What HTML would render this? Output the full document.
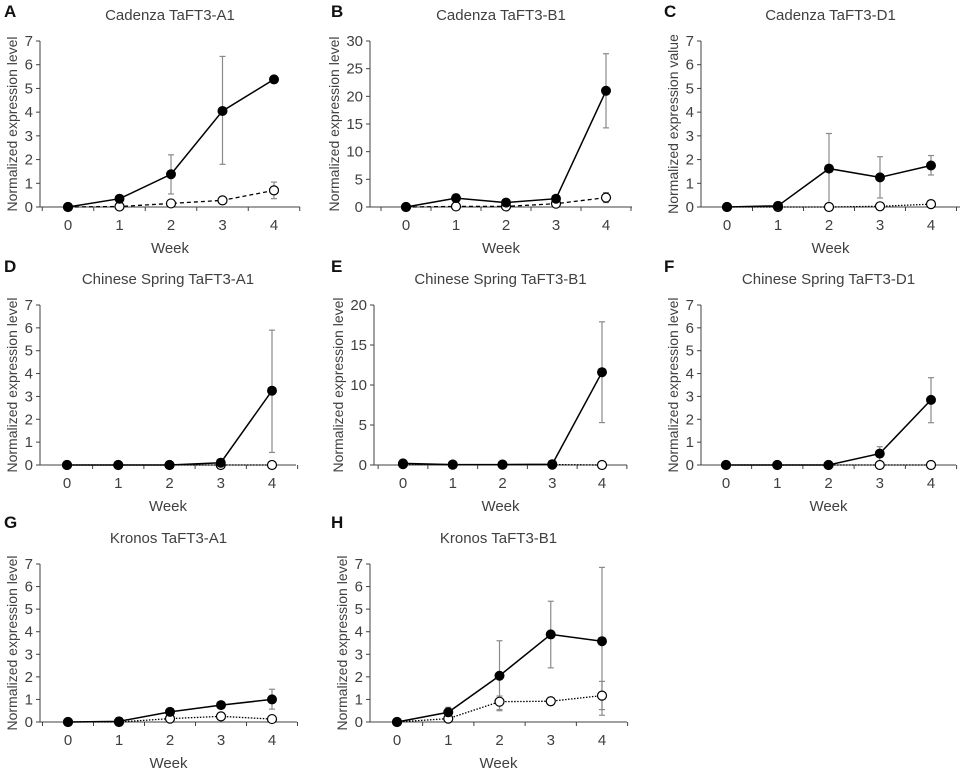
<!DOCTYPE html>
<html><head><meta charset="utf-8"><style>
body{margin:0;background:#fff}
svg{display:block;font-family:"Liberation Sans",sans-serif}
</style></head><body>
<svg id="fig" width="964" height="771" viewBox="0 0 964 771"></svg>
<script>
const weeks=["0","1","2","3","4"];
// A
const aFilled=[0,0.35,1.38,4.05,5.38];
const aFilledLo=[0,0.35,0.55,1.8,5.38];
const aFilledHi=[0,0.35,2.2,6.35,5.38];
const aOpen=[0,0.02,0.15,0.28,0.7];
const aOpenLo=[0,0.02,0.15,0.28,0.35];
const aOpenHi=[0,0.02,0.15,0.28,1.05];
const aTicks=[0,1,2,3,4,5,6,7];
// B
const bFilled=[0,1.6,0.8,1.5,21];
const bFilledLo=[0,0.9,0.8,1.5,14.3];
const bFilledHi=[0,2.3,0.8,1.5,27.7];
const bOpen=[0,0.1,0.1,0.6,1.7];
const bOpenLo=[0,0.1,0.1,0.6,0.8];
const bOpenHi=[0,0.1,0.1,0.6,2.6];
const bTicks=[0,5,10,15,20,25,30];
// C
const cFilled=[0,0.05,1.62,1.25,1.75];
const cFilledLo=[0,0.05,0.05,0.38,1.35];
const cFilledHi=[0,0.05,3.1,2.12,2.17];
const cOpen=[0,0,0,0.03,0.12];
const cTicks=[0,1,2,3,4,5,6,7];
// D
const dFilled=[0,0,0,0.1,3.25];
const dFilledLo=[0,0,0,0.1,0.55];
const dFilledHi=[0,0,0,0.1,5.9];
const dOpen=[0,0,0,0,0];
const dTicks=[0,1,2,3,4,5,6,7];
// E
const eFilled=[0.2,0.05,0.05,0.1,11.6];
const eFilledLo=[0.2,0.05,0.05,0.1,5.3];
const eFilledHi=[0.2,0.05,0.05,0.1,17.9];
const eOpen=[0.1,0.05,0.05,0.05,0];
const eTicks=[0,5,10,15,20];
// F
const fFilled=[0,0,0,0.5,2.85];
const fFilledLo=[0,0,0,0.15,1.85];
const fFilledHi=[0,0,0,0.8,3.82];
const fOpen=[0,0,0,0,0];
const fTicks=[0,1,2,3,4,5,6,7];
// G
const gFilled=[0,0.03,0.45,0.75,1.0];
const gFilledLo=[0,0.03,0.33,0.75,0.57];
const gFilledHi=[0,0.03,0.57,0.75,1.45];
const gOpen=[0,0,0.15,0.25,0.13];
const gTicks=[0,1,2,3,4,5,6,7];
// H
const hFilled=[0,0.43,2.05,3.88,3.58];
const hFilledLo=[0,0.2,0.55,2.4,0.3];
const hFilledHi=[0,0.65,3.6,5.35,6.85];
const hOpen=[0,0.15,0.9,0.92,1.17];
const hOpenLo=[0,0.15,0.5,0.92,0.55];
const hOpenHi=[0,0.15,1.15,0.92,1.8];
const hTicks=[0,1,2,3,4,5,6,7];

const NS="http://www.w3.org/2000/svg";
const svg=document.getElementById('fig');
function mk(tag,attrs,parent,text){const e=document.createElementNS(NS,tag);for(const k in attrs)e.setAttribute(k,attrs[k]);if(text!==undefined)e.textContent=text;(parent||svg).appendChild(e);return e;}

function panel(p){
  const g=mk('g',{},svg);
  
  
  const ymax=p.ticks[p.ticks.length-1];
  const ys=v=>p.y0-(v/ymax)*(p.y0-p.yTop);
  const step=(p.x4-p.x0)/4;
  const xs=i=>p.x0+i*step;
  const L=mk('text',{x:p.lx,y:p.ly,'font-size':17,'font-weight':'bold',fill:'#111'},g,p.letter);
  
  
  const T=mk('text',{x:(p.ax+p.xEnd)/2,y:p.ty,'font-size':15,fill:'#404040','text-anchor':'middle'},g,p.title);
  
  
  const ya=mk('line',{x1:p.ax,y1:p.yTop,x2:p.ax,y2:p.y0,stroke:'#404040','stroke-width':1},g);
  
  
  const xa=mk('line',{x1:p.ax,y1:p.y0,x2:p.xEnd,y2:p.y0,stroke:'#404040','stroke-width':1},g);
  
  
  let maxDigits=1;
  p.ticks.forEach(t=>{
    maxDigits=Math.max(maxDigits,String(t).length);
    mk('line',{x1:p.ax-4,y1:ys(t),x2:p.ax,y2:ys(t),stroke:'#404040'},g);
    const tl=mk('text',{x:p.ax-7,y:ys(t)+5,'font-size':15,fill:'#404040','text-anchor':'end'},g,String(t));
    
    
  });
  for(let i=0;i<=5;i++){const xx=p.x0-step/2+i*step;if(xx>p.ax+2)mk('line',{x1:xx,y1:p.y0,x2:xx,y2:p.y0+4,stroke:'#404040'},g);}
  weeks.forEach((w,i)=>{
    const tl=mk('text',{x:xs(i),y:p.y0+23,'font-size':15,fill:'#404040','text-anchor':'middle'},g,w);
    
    
  });
  const wk=mk('text',{x:(p.ax+p.xEnd)/2,y:p.y0+46,'font-size':15,fill:'#404040','text-anchor':'middle'},g,'Week');
  
  
  const cy=(p.yTop+p.y0)/2, tx=p.ax-15-8*maxDigits;
  const yt=mk('text',{x:tx,y:cy,'font-size':14,fill:'#404040','text-anchor':'middle',transform:`rotate(-90 ${tx} ${cy})`},g,p.ylabel);
  
  
  function err(lo,hi){
    if(!lo)return;
    lo.forEach((l,i)=>{const h=hi[i];if(Math.abs(h-l)<0.01)return;
      const e=mk('g',{stroke:'#8a8a8a','stroke-width':1.2},g);
      
      
      mk('line',{x1:xs(i),y1:ys(l),x2:xs(i),y2:ys(h)},e);
      mk('line',{x1:xs(i)-3,y1:ys(l),x2:xs(i)+3,y2:ys(l)},e);
      mk('line',{x1:xs(i)-3,y1:ys(h),x2:xs(i)+3,y2:ys(h)},e);
    });
  }
  err(p.oLo,p.oHi);err(p.fLo,p.fHi);
  const od=mk('polyline',{points:p.open.map((v,i)=>xs(i)+','+ys(v)).join(' '),fill:'none',stroke:'#000','stroke-width':1.3,'stroke-dasharray':p.dash},g);
  
  
  const fl=mk('polyline',{points:p.filled.map((v,i)=>xs(i)+','+ys(v)).join(' '),fill:'none',stroke:'#000','stroke-width':1.5},g);
  
  
  p.open.forEach((v,i)=>{const c=mk('circle',{cx:xs(i),cy:ys(v),r:4.5,fill:'#fff',stroke:'#000','stroke-width':1.2},g);
    
    });
  p.filled.forEach((v,i)=>{const c=mk('circle',{cx:xs(i),cy:ys(v),r:5,fill:'#000'},g);
    
    });
}
const NEL='Normalized expression level';
const r1={yTop:41,y0:207,ty:20,ly:17},r2={yTop:305,y0:465,ty:284,ly:272},r3={yTop:564,y0:722,ty:543,ly:528};
panel({...r1,letter:'A',title:'Cadenza TaFT3-A1',ylabel:NEL,ax:40,x0:68,x4:274,xEnd:300,ticks:aTicks,filled:aFilled,fLo:aFilledLo,fHi:aFilledHi,open:aOpen,oLo:aOpenLo,oHi:aOpenHi,dash:'4,3',lx:4});
panel({...r1,letter:'B',title:'Cadenza TaFT3-B1',ylabel:NEL,ax:370,x0:406,x4:606,xEnd:632,ticks:bTicks,filled:bFilled,fLo:bFilledLo,fHi:bFilledHi,open:bOpen,oLo:bOpenLo,oHi:bOpenHi,dash:'4,3',lx:331});
panel({...r1,letter:'C',title:'Cadenza TaFT3-D1',ylabel:'Normalized expression value',ax:701,x0:727,x4:931,xEnd:960,ticks:cTicks,filled:cFilled,fLo:cFilledLo,fHi:cFilledHi,open:cOpen,dash:'1.5,1.5',lx:664});
panel({...r2,letter:'D',title:'Chinese Spring TaFT3-A1',ylabel:NEL,ax:40,x0:67,x4:272,xEnd:296,ticks:dTicks,filled:dFilled,fLo:dFilledLo,fHi:dFilledHi,open:dOpen,dash:'1.5,1.5',lx:4});
panel({...r2,letter:'E',title:'Chinese Spring TaFT3-B1',ylabel:NEL,ax:374,x0:403,x4:602,xEnd:627,ticks:eTicks,filled:eFilled,fLo:eFilledLo,fHi:eFilledHi,open:eOpen,dash:'1.5,1.5',lx:331});
panel({...r2,letter:'F',title:'Chinese Spring TaFT3-D1',ylabel:NEL,ax:701,x0:726,x4:931,xEnd:956,ticks:fTicks,filled:fFilled,fLo:fFilledLo,fHi:fFilledHi,open:fOpen,dash:'1.5,1.5',lx:664});
panel({...r3,letter:'G',title:'Kronos TaFT3-A1',ylabel:NEL,ax:40,x0:68,x4:272,xEnd:297,ticks:gTicks,filled:gFilled,fLo:gFilledLo,fHi:gFilledHi,open:gOpen,dash:'1.5,1.5',lx:4});
panel({...r3,letter:'H',title:'Kronos TaFT3-B1',ylabel:NEL,ax:370,x0:397,x4:602,xEnd:627,ticks:hTicks,filled:hFilled,fLo:hFilledLo,fHi:hFilledHi,open:hOpen,oLo:hOpenLo,oHi:hOpenHi,dash:'1.5,1.5',lx:331});
</script>
</body></html>
